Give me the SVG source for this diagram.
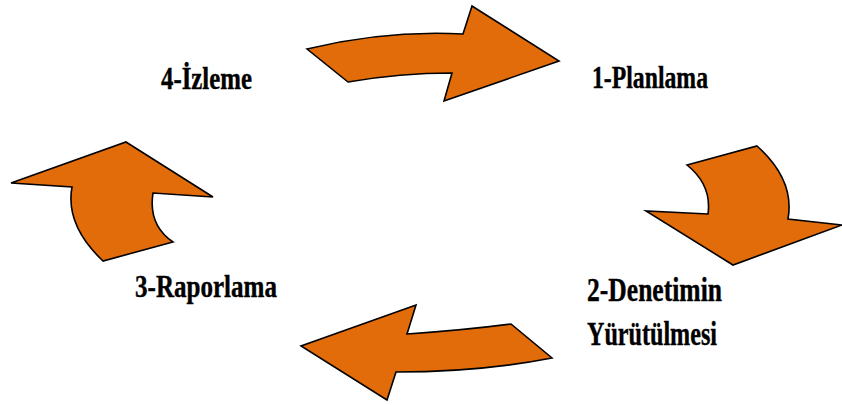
<svg xmlns="http://www.w3.org/2000/svg" width="842" height="405" viewBox="0 0 842 405">
  <style>
    .arrow { fill: #E36C0A; stroke: #000; stroke-width: 1.6; stroke-linejoin: miter; }
    .label { font-family: "Liberation Serif", "Times New Roman", serif; font-weight: bold; fill: #000; stroke: #000; stroke-width: 0.4; }
  </style>
  <rect width="842" height="405" fill="#fff"/>
  <g id="connectors">
    <path id="arrow-top" class="arrow" d="M307,49 Q385,30 463,34 L472,6 L559,61 L444,101 L452,73 Q400,73 348,82 Z"/>
    <path id="arrow-right" class="arrow" d="M687,165 L757,146 Q795,180 788,219 L842,225 L733,265 L646,211 L708,214 Q712,185 687,165 Z"/>
    <path id="arrow-bottom" class="arrow" d="M511,324 Q465,330 407,334 L416,305 L301,346 L387,400 L396,372 Q480,372 552,358 Z"/>
    <path id="arrow-left" class="arrow" d="M126,142 L213,197 L153,193 Q148,225 173,242 L103,261 Q65,225 72,187 L11,183 Z"/>
  </g>
  <g id="node-planlama">
    <text class="label" x="592" y="88" font-size="32" textLength="116" lengthAdjust="spacingAndGlyphs">1-Planlama</text>
  </g>
  <g id="node-denetim">
    <text class="label" x="587" y="301" font-size="34" textLength="135" lengthAdjust="spacingAndGlyphs">2-Denetimin</text>
    <text class="label" x="587" y="345" font-size="34" textLength="130" lengthAdjust="spacingAndGlyphs">Yürütülmesi</text>
  </g>
  <g id="node-raporlama">
    <text class="label" x="135" y="297" font-size="32" textLength="142" lengthAdjust="spacingAndGlyphs">3-Raporlama</text>
  </g>
  <g id="node-izleme">
    <text class="label" x="161" y="89" font-size="31" textLength="91" lengthAdjust="spacingAndGlyphs">4-İzleme</text>
  </g>
</svg>
